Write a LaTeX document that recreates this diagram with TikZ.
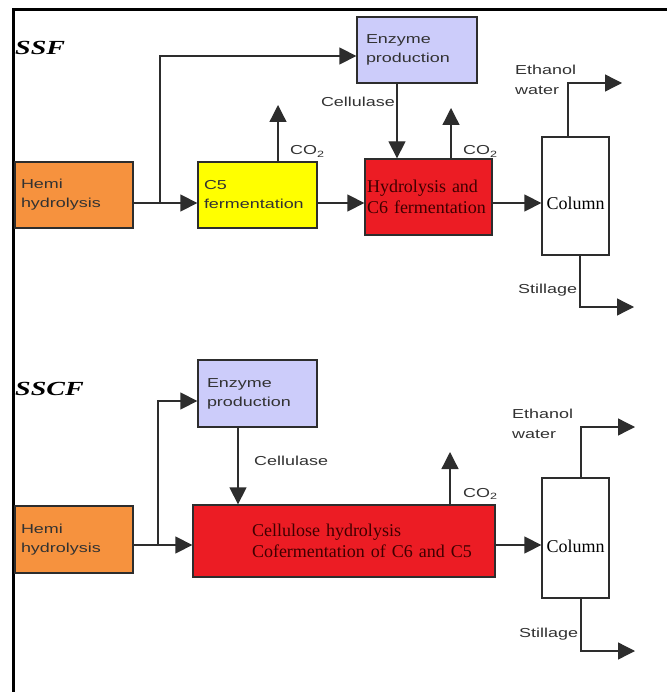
\documentclass[tikz,border=0pt]{standalone}
\usepackage{fontspec}
\setmainfont{Liberation Serif}
\newfontfamily\labelfont[FakeStretch=1.38]{Liberation Sans}
\newfontfamily\titlefont[FakeStretch=1.4]{Liberation Serif}
\usetikzlibrary{arrows.meta}
\definecolor{hemiorange}{RGB}{246,146,62}
\definecolor{cfyellow}{RGB}{255,255,0}
\definecolor{enzblue}{RGB}{204,204,250}
\definecolor{procred}{RGB}{236,28,36}
\definecolor{linegray}{RGB}{45,45,45}
\definecolor{textgray}{RGB}{50,50,50}

\begin{document}
\begin{tikzpicture}[x=1pt,y=-1pt,
  box/.style={draw=linegray, line width=1.3pt, inner xsep=6pt, inner ysep=0pt, align=left, text=textgray, font=\labelfont\fontsize{13}{19}\selectfont},
  redbox/.style={box, fill=procred, text=red!25!black, inner xsep=2pt, font=\fontsize{18}{21}\selectfont},
  colbox/.style={box, fill=white, inner xsep=0pt, text=black, align=center, font=\fontsize{18}{20}\selectfont},
  flow/.style={draw=linegray, line width=1.3pt, -{Triangle[length=17pt,width=17pt]}},
  lbl/.style={anchor=base west, inner sep=0pt, align=left, text=textgray, font=\labelfont\fontsize{13}{20}\selectfont},
  title/.style={anchor=base west, inner sep=0pt, font=\titlefont\bfseries\itshape\fontsize{20}{24}\selectfont}]
\useasboundingbox (0,0) rectangle (667,692);
\draw[line width=3pt] (13,692) -- (13,10) -- (667,10);

% SSF
\node[title] (ssf) at (15,55) {SSF};
\node[box, fill=hemiorange, text width=106pt, minimum height=66pt] (hemiA) at (74,195) {Hemi\\hydrolysis};
\node[box, fill=cfyellow, text width=107pt, minimum height=66pt] (c5) at (257.5,195) {C5\\fermentation};
\node[box, fill=enzblue, inner xsep=9pt, text width=102pt, minimum height=66pt] (enzA) at (417,50) {Enzyme\\production};
\node[redbox, text width=123pt, minimum height=76pt] (hydA) at (428.5,197) {Hydrolysis and\\C6 fermentation};
\node[colbox, minimum width=67pt, minimum height=118pt] (colA) at (575.5,196) {\raisebox{-7pt}[\height][\depth]{Column}};

\coordinate (jA) at (160,203);
\coordinate (kA) at (160,56);
\coordinate (cA) at (397,0);
\coordinate (co2A) at (278,105);
\coordinate (co2hA) at (451,108);
\coordinate (etA) at (568,83);
\coordinate (ethA) at (622,83);
\coordinate (stA) at (580,307);
\coordinate (stilA) at (634,307);

\draw[flow] (hemiA.east |- jA) -- (c5.west |- jA);
\draw[flow] (jA) -- (kA) -- (enzA.west |- kA);
\draw[flow] (c5.east |- jA) -- (hydA.west |- jA);
\draw[flow] (hydA.east |- jA) -- (colA.west |- jA);
\draw[flow] (enzA.south -| cA) -- (hydA.north -| cA);
\draw[flow] (c5.north -| co2A) -- (co2A);
\draw[flow] (hydA.north -| co2hA) -- (co2hA);
\draw[flow] (colA.north -| etA) -- (etA) -- (ethA);
\draw[flow] (colA.south -| stA) -- (stA) -- (stilA);

\node[lbl] (lco2A) at (290,155) {CO\textsubscript{2}};
\node[lbl] (lco2hA) at (463,155) {CO\textsubscript{2}};
\node[lbl, anchor=base east] (lcelA) at (395,107) {Cellulase};
\node[lbl] (lethA) at (515,95) {Ethanol\\water};
\node[lbl] (lstilA) at (518,293) {Stillage};

% SSCF
\node[title] (sscf) at (15,395) {SSCF};
\node[box, fill=hemiorange, text width=106pt, minimum height=67pt] (hemiB) at (74,539.5) {Hemi\\hydrolysis};
\node[box, fill=enzblue, inner xsep=9pt, text width=101pt, minimum height=67pt] (enzB) at (257.5,393.5) {Enzyme\\production};
\node[redbox, text width=298pt, minimum height=72pt] (cofB) at (344,541) {\hspace*{57pt}Cellulose hydrolysis\\\hspace*{57pt}Cofermentation of C6 and C5};
\node[colbox, minimum width=67pt, minimum height=120pt] (colB) at (575.5,538) {\raisebox{-8pt}[\height][\depth]{Column}};

\coordinate (jB) at (158,545);
\coordinate (kB) at (158,401);
\coordinate (cB) at (238,0);
\coordinate (co2B) at (450,452);
\coordinate (etB) at (581,427);
\coordinate (ethB) at (635,427);
\coordinate (stB) at (581,651);
\coordinate (stilB) at (635,651);

\draw[flow] (hemiB.east |- jB) -- (cofB.west |- jB);
\draw[flow] (jB) -- (kB) -- (enzB.west |- kB);
\draw[flow] (enzB.south -| cB) -- (cofB.north -| cB);
\draw[flow] (cofB.east |- jB) -- (colB.west |- jB);
\draw[flow] (cofB.north -| co2B) -- (co2B);
\draw[flow] (colB.north -| etB) -- (etB) -- (ethB);
\draw[flow] (colB.south -| stB) -- (stB) -- (stilB);

\node[lbl] (lco2B) at (463,497) {CO\textsubscript{2}};
\node[lbl] (lcelB) at (254,465) {Cellulase};
\node[lbl] (lethB) at (512,438) {Ethanol\\water};
\node[lbl] (lstilB) at (519,637) {Stillage};
\end{tikzpicture}
\end{document}
